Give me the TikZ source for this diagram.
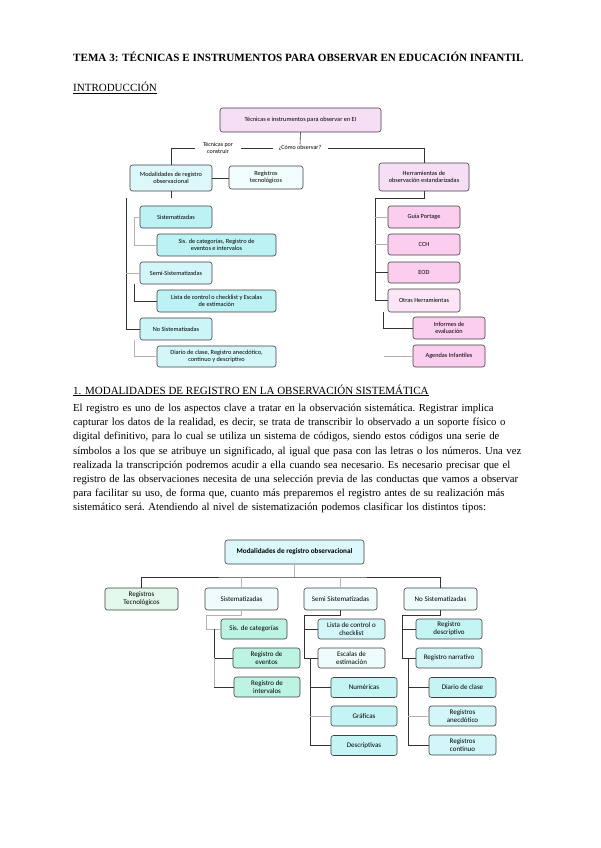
\documentclass[tikz,border=0pt]{standalone}
\usepackage{fontspec}
\setmainfont{Liberation Serif}
\newfontfamily\boxfont{Carlito}
\definecolor{pkT}{HTML}{F6DEF5}
\definecolor{pkS}{HTML}{FBCDEE}
\definecolor{pkL}{HTML}{FCE5F6}
\definecolor{cyM}{HTML}{DDF8FA}
\definecolor{cyW}{HTML}{F1FCFC}
\definecolor{cyS}{HTML}{BDF2F4}
\definecolor{cyL}{HTML}{D3F7F8}
\definecolor{bPale}{HTML}{EEFCFC}
\definecolor{bGreen}{HTML}{E2F8EA}
\definecolor{bMint}{HTML}{BDF3E2}
\definecolor{bCyan}{HTML}{C4F4F4}

\begin{document}
\begin{tikzpicture}[x=1pt,y=-1pt,
  box/.style={draw=black!75, rounded corners=2.5pt, line width=0.6pt, align=center, inner sep=1pt, font=\boxfont\fontsize{6.3}{7.2}\selectfont},
  boxb/.style={box, font=\boxfont\fontsize{7}{8}\selectfont},
  lbl/.style={inner ysep=1pt, align=center, font=\boxfont\fontsize{6}{7}\selectfont},
  conn/.style={draw=black!80, line width=0.6pt},
  connlt/.style={draw=black!30, line width=0.6pt},
  head/.style={inner sep=0pt, anchor=base west, font=\fontsize{11}{13}\selectfont}
]
\fill[white] (0,0) rectangle (600,848);
\useasboundingbox (0,0) rectangle (600,848);

\node[head, font=\bfseries\fontsize{11.1}{13}\selectfont] (tema) at (73,62) {TEMA 3: TÉCNICAS E INSTRUMENTOS PARA OBSERVAR EN EDUCACIÓN INFANTIL};
\node[head] (intro) at (73,91.5) {\underline{INTRODUCCIÓN}};

% esquema de la introduccion
\node[box, fill=pkT, minimum width=161pt, minimum height=24pt] (tit) at (300.5,120) {Técnicas e instrumentos para observar en EI};
\node[lbl, inner xsep=6pt] (como) at (300,148) {¿Cómo observar?};
\node[box, fill=cyM, minimum width=82pt, minimum height=26pt] (mod) at (171,178) {Modalidades de registro\\observacional};
\node[box, fill=cyW, minimum width=74pt, minimum height=23pt] (regtec) at (266,177.5) {Registros\\tecnológicos};
\node[box, fill=pkT, minimum width=90pt, minimum height=28pt] (herr) at (424,177) {Herramientas de\\observación estandarizadas};
\node[box, fill=cyS, minimum width=72pt, minimum height=22pt] (sis) at (176,217) {Sistematizadas};
\node[box, fill=cyS, minimum width=119pt, minimum height=22pt] (siscat) at (216.5,245) {Sis. de categorías, Registro de\\eventos e intervalos};
\node[box, fill=cyL, minimum width=72pt, minimum height=22pt] (semi) at (176,273) {Semi-Sistematizadas};
\node[box, fill=cyS, minimum width=119pt, minimum height=22pt] (lista) at (216.5,301) {Lista de control o checklist y Escalas\\de estimación};
\node[box, fill=cyL!70!cyS, minimum width=72pt, minimum height=22pt] (nosis) at (176,329) {No Sistematizadas};
\node[box, fill=cyL, minimum width=119pt, minimum height=21pt] (diario) at (216.5,356.5) {Diario de clase, Registro anecdótico,\\continuo y descriptivo};
\node[box, fill=pkS, minimum width=72pt, minimum height=22pt] (portage) at (424,217) {Guía Portage};
\node[box, fill=pkS, minimum width=72pt, minimum height=21pt] (cch) at (424,244.5) {CCH};
\node[box, fill=pkS, minimum width=72pt, minimum height=21pt] (eod) at (424,272.5) {EOD};
\node[box, fill=pkL, minimum width=72pt, minimum height=23pt] (otras) at (424,300.5) {Otras Herramientas};
\node[box, fill=pkS, minimum width=72pt, minimum height=22pt] (informes) at (449,328) {Informes de\\evaluación};
\node[box, fill=pkS, minimum width=72pt, minimum height=22pt] (agendas) at (449,356) {Agendas Infantiles};
\coordinate (modstub) at (171,198);
\coordinate (lft) at (126,198);
\coordinate (rgt) at (375,198);
\coordinate (agstub) at (384,356);

\draw[conn] (tit.south) -- (como.north);
\draw[conn] (mod.north) |- (como.west);
\draw[conn] (como.east) -| (herr.north);
\node[lbl, fill=white, inner xsep=8pt] (tecc) at (218,148) {Técnicas por\\construir};
\draw[conn] (mod.east) -- (mod.east -| regtec.west);
\draw[conn] (mod.south) -- (modstub);
\draw[conn] (lft) |- (nosis.west);
\draw[connlt] (lft |- semi.west) -- (semi.west);
\draw[connlt] (sis.west) -- ++(-5,0) |- (siscat.west);
\draw[conn] ([xshift=-5pt]semi.south west) |- (lista.west);
\draw[connlt] ([xshift=-5pt]nosis.south west) |- (diario.west);
\draw[conn] (herr.south) |- (rgt) |- (otras.west);
\foreach \n in {portage,cch} \draw[connlt] (rgt |- \n.west) -- (\n.west);
\draw[conn] (rgt |- eod.west) -- (eod.west);
\draw[conn] ([xshift=-4pt]otras.south west) |- (informes.west);
\draw[connlt] (agstub) -- (agendas.west);

% texto
\node[head] (sec1) at (73,394) {\underline{1. MODALIDADES DE REGISTRO EN LA OBSERVACIÓN SISTEMÁTICA}};
\node[inner sep=0pt, anchor=north west, text width=450pt, align=left, font=\fontsize{10.7}{14.14}\selectfont] (parr) at (73,404) {\parindent=0pt\frenchspacing
\hbox to\linewidth{El registro es uno de los aspectos clave a tratar en la observación sistemática. Registrar implica}\par
\hbox to\linewidth{capturar los datos de la realidad, es decir, se trata de transcribir lo observado a un soporte físico o}\par
\hbox to\linewidth{digital definitivo, para lo cual se utiliza un sistema de códigos, siendo estos códigos una serie de}\par
\hbox to\linewidth{símbolos a los que se atribuye un significado, al igual que pasa con las letras o los números. Una vez}\par
\hbox to\linewidth{realizada la transcripción podremos acudir a ella cuando sea necesario. Es necesario precisar que el}\par
\hbox to\linewidth{registro de las observaciones necesita de una selección previa de las conductas que vamos a observar}\par
\hbox to\linewidth{para facilitar su uso, de forma que, cuanto más preparemos el registro antes de su realización más}\par
\hbox{sistemático será. Atendiendo al nivel de sistematización podemos clasificar los distintos tipos:}};

% esquema de modalidades
\node[boxb, fill=cyM, minimum width=139pt, minimum height=24pt, font=\boxfont\bfseries\fontsize{7.2}{8.2}\selectfont] (modb) at (294.5,552) {Modalidades de registro observacional};
\node[boxb, fill=bGreen, minimum width=73pt, minimum height=22pt] (tecb) at (141.5,599) {Registros\\Tecnológicos};
\node[boxb, fill=bPale, minimum width=73pt, minimum height=22pt] (sisb) at (241.5,599) {Sistematizadas};
\node[boxb, fill=bPale, minimum width=73pt, minimum height=22pt] (semib) at (340.5,599) {Semi Sistematizadas};
\node[boxb, fill=bPale, minimum width=73pt, minimum height=22pt] (nosisb) at (440.5,599) {No Sistematizadas};
\node[boxb, fill=bMint, minimum width=66pt, minimum height=20pt] (catb) at (254,629) {Sis. de categorías};
\node[boxb, fill=bMint, minimum width=67pt, minimum height=20pt] (evtb) at (266.5,658) {Registro de\\eventos};
\node[boxb, fill=bMint, minimum width=66pt, minimum height=20pt] (intb) at (267,687) {Registro de\\intervalos};
\node[boxb, fill=cyL, minimum width=67pt, minimum height=20pt] (listab) at (351.5,629) {Lista de control o\\checklist};
\node[boxb, fill=bPale, minimum width=67pt, minimum height=20pt] (escb) at (351.5,658) {Escalas de\\estimación};
\node[boxb, fill=bCyan, minimum width=66pt, minimum height=20pt] (numb) at (364,687.5) {Numéricas};
\node[boxb, fill=bCyan, minimum width=66pt, minimum height=20pt] (grafb) at (364,716) {Gráficas};
\node[boxb, fill=bCyan, minimum width=66pt, minimum height=20pt] (descb) at (364,745.5) {Descriptivas};
\node[boxb, fill=bCyan, minimum width=66pt, minimum height=20pt] (regdb) at (449,629) {Registro\\descriptivo};
\node[boxb, fill=cyL, minimum width=66pt, minimum height=20pt] (regnb) at (449,658) {Registro narrativo};
\node[boxb, fill=bCyan, minimum width=67pt, minimum height=20pt] (diab) at (462.5,687.5) {Diario de clase};
\node[boxb, fill=cyL, minimum width=67pt, minimum height=20pt] (aneb) at (462.5,716) {Registros\\anecdótico};
\node[boxb, fill=cyL, minimum width=67pt, minimum height=20pt] (contb) at (462.5,745) {Registros\\continuo};
\coordinate (busb) at (294.5,577);
\coordinate (catx) at (214,629);
\coordinate (escx) at (310,658);
\coordinate (regx) at (408,658);

\draw[connlt] (modb.south) -- (busb);
\draw[conn] (tecb.north) |- (busb) -| (nosisb.north);
\foreach \n in {sisb,semib} \draw[connlt] (\n.north) -- (\n.north |- busb);
\draw[connlt] (sisb.south) |- ++(-35.5,5) |- (catb.west);
\draw[conn] (catx) |- (evtb.west);
\draw[connlt] (catx |- evtb.west) -- (catx |- intb.west);
\draw[conn] (catx |- intb.west) -- (intb.west);
\draw[conn] (semib.south) |- ++(-36.5,5) |- (escb.west);
\draw[conn] (listab.west) -- ++(-14,0);
\draw[conn] (escx) |- (descb.west);
\draw[conn] (escx |- numb.west) -- (numb.west);
\draw[connlt] (escx |- grafb.west) -- (grafb.west);
\draw[conn] (nosisb.south) |- ++(-38.5,5) |- (regnb.west);
\draw[conn] (regdb.west) -- ++(-14,0);
\draw[conn] (regx) |- (contb.west);
\draw[conn] (regx |- diab.west) -- (diab.west);
\draw[connlt] (regx |- aneb.west) -- (aneb.west);
\end{tikzpicture}
\end{document}
